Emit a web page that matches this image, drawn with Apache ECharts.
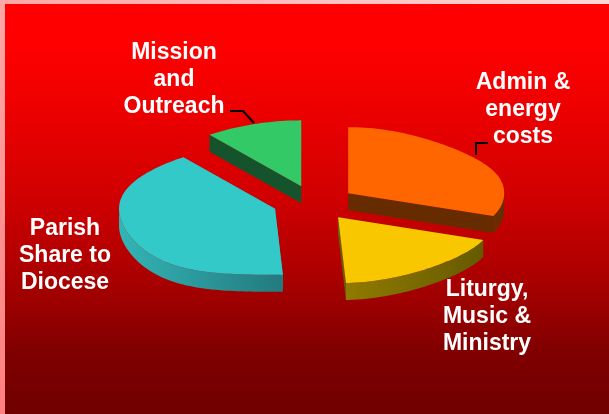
<!DOCTYPE html>
<html>
<head>
<meta charset="utf-8">
<style>
    html, body { margin: 0; padding: 0; background: #ff0000; }
    #app { width: 609px; height: 414px; }
</style>
<script src="https://cdn.jsdelivr.net/npm/echarts@6/dist/echarts.min.js"></script>
</head>
<body>
<div id="app"></div>
<script>
// values, in percent, clockwise from 12 o'clock
var categories = ['Admin & energy costs', 'Liturgy, Music & Ministry', 'Parish Share to Diocese', 'Mission and Outreach'];
var shares = [31, 18.2, 40.8, 10];
var labelLines = [
    ['Admin &', 'energy', 'costs'],
    ['Liturgy,', 'Music &', 'Ministry'],
    ['Parish', 'Share to', 'Diocese'],
    ['Mission', 'and', 'Outreach']
];

// layout of the fake 3D pie
var pie = { cx: 314, cy: 203, rx: 156, ry: 66, depth: 17, explode: 0.265 };
// the original outline is not a true ellipse: y bulge in px for each quarter
var quarterBulge = [4, -3, 6, 2];
var labelPos = [[523, 110], [487, 317], [65, 256], [174, 80]];
var leaders = [
    [[476, 155], [476, 143], [488, 143]],
    null,
    null,
    [[230, 111], [243, 111], [254, 123]]
];
var topColors = ['#ff6600', '#f9c700', '#33c9c9', '#33c966'];
var wallColors = ['#662c00', '#6b5d00', '#2a9ea0', '#15532c'];
var rimStops = [
    ['#6b2d00', '#662c00'],
    ['#8f7a00', '#665a00'],
    ['#33b4b6', '#237a7e'],
    ['#15532c', '#15532c']
];

var total = shares.reduce(function (a, b) { return a + b; }, 0);

function warp(deg) {
    var q = Math.min(3, Math.floor(deg / 90));
    var s = Math.sin(2 * deg * Math.PI / 180);
    return quarterBulge[q] * s * s;
}

function pt(c, deg, dy) {
    var a = deg * Math.PI / 180;
    return [c[0] + pie.rx * Math.sin(a), c[1] - pie.ry * Math.cos(a) + warp(deg) + (dy || 0)];
}

function arc(c, from, to, dy) {
    var pts = [];
    for (var d = from; d < to; d += 1.5) {
        pts.push(pt(c, d, dy));
    }
    pts.push(pt(c, to, dy));
    return pts;
}

function down(p) {
    return [p[0], p[1] + pie.depth];
}

function renderSlice(params, api) {
    var i = params.dataIndex;
    var before = 0;
    for (var k = 0; k < i; k++) before += shares[k];
    var start = before / total * 360;
    var end = (before + api.value(1)) / total * 360;
    var mid = (start + end) / 2;

    // every slice is pulled out along its own middle
    var a = mid * Math.PI / 180;
    var c = [
        pie.cx + pie.explode * pie.rx * Math.sin(a),
        pie.cy - pie.explode * pie.ry * Math.cos(a)
    ];
    var children = [];

    function poly(points, fill) {
        children.push({ type: 'polygon', shape: { points: points }, style: { fill: fill } });
    }

    // cut faces, the top covers whichever one faces away
    var p0 = pt(c, start), p1 = pt(c, end);
    poly([c, p0, down(p0), down(c)], wallColors[i]);
    poly([c, p1, down(p1), down(c)], wallColors[i]);

    // rim, only the front half can be seen
    var rimFrom = Math.max(start, 90), rimTo = Math.min(end, 270);
    if (rimTo > rimFrom) {
        poly(arc(c, rimFrom, rimTo).concat(arc(c, rimFrom, rimTo, pie.depth).reverse()),
            new echarts.graphic.LinearGradient(0, 0, 1, 0, [
                { offset: 0, color: rimStops[i][0] },
                { offset: 1, color: rimStops[i][1] }
            ]));
    }

    poly([c].concat(arc(c, start, end)), topColors[i]);

    if (leaders[i]) {
        children.push({
            type: 'polyline',
            shape: { points: leaders[i] },
            style: { stroke: '#000000', lineWidth: 2, fill: null }
        });
    }
    children.push({
        type: 'text',
        x: labelPos[i][0],
        y: labelPos[i][1],
        style: {
            text: labelLines[i].join('\n'),
            fontFamily: '"Liberation Sans", Arial, sans-serif',
            fontWeight: 'bold',
            fontSize: 23,
            lineHeight: 27,
            fill: '#ffffff',
            align: 'center',
            verticalAlign: 'middle'
        }
    });
    return { type: 'group', children: children };
}

var chart = echarts.init(document.getElementById('app'), null, { renderer: 'canvas' });
chart.setOption({
    animation: false,
    backgroundColor: new echarts.graphic.LinearGradient(0, 0, 0, 1, [
        { offset: 0, color: '#ff0000' },
        { offset: 0.1, color: '#ff0000' },
        { offset: 0.24, color: '#f00000' },
        { offset: 0.48, color: '#d00000' },
        { offset: 0.72, color: '#a00000' },
        { offset: 0.85, color: '#800000' },
        { offset: 1, color: '#700000' }
    ]),
    graphic: [
        {
            type: 'rect', left: 0, top: 0, z: 10,
            shape: { width: 609, height: 4 },
            style: {
                fill: new echarts.graphic.LinearGradient(0, 0, 1, 0, [
                    { offset: 0, color: '#ffa6a6' },
                    { offset: 1, color: '#ffd8d8' }
                ])
            }
        },
        {
            type: 'rect', left: 0, top: 0, z: 10,
            shape: { width: 5, height: 414 },
            style: {
                fill: new echarts.graphic.LinearGradient(0, 0, 0, 1, [
                    { offset: 0, color: '#ffa6a6' },
                    { offset: 1, color: '#ff7f7f' }
                ])
            }
        }
    ],
    series: [{
        type: 'custom',
        coordinateSystem: 'none',
        renderItem: renderSlice,
        data: categories.map(function (name, i) {
            return { name: name, value: [i, shares[i]] };
        })
    }]
});
</script>
</body>
</html>
